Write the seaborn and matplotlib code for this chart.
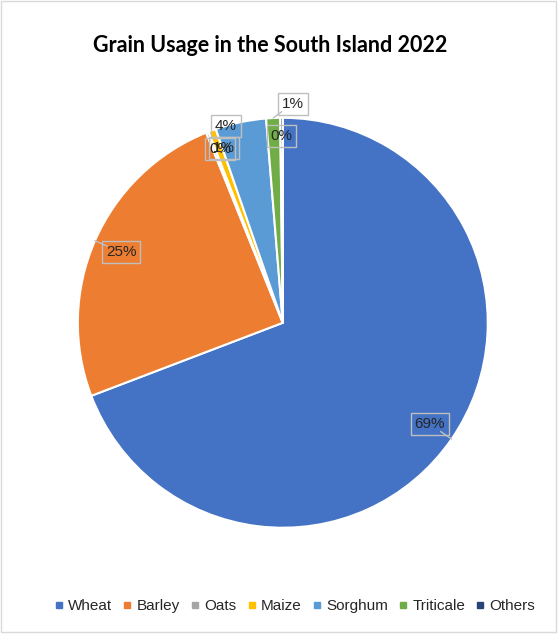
import numpy as np
import matplotlib as mpl
mpl.use("Agg")
import matplotlib.pyplot as plt
import seaborn as sns
from matplotlib.lines import Line2D
from matplotlib.patches import Rectangle

# data (percent of total)
grains = ["Wheat", "Barley", "Oats", "Maize", "Sorghum", "Triticale", "Others"]
usage = [69.2, 24.7, 0.2, 0.6, 4.0, 1.1, 0.2]
colores = ["#4472C4", "#ED7D31", "#A5A5A5", "#FFC000", "#5B9BD5", "#70AD47", "#264478"]
titulo = "Grain Usage in the South Island 2022"

# label placement (radius, angle nudge in degrees) per slice
pos_labels = [(0.87, 0), (0.86, 0), (0.90, -1.8), (0.90, -1.5), (1.0, 4.2), (1.07, -5.3), (0.91, 0)]

sns.set_style("white")
plt.rcParams["font.family"] = ["Liberation Sans", "DejaVu Sans"]

fig = plt.figure(figsize=(5.6, 6.36), dpi=100)
fig.add_artist(Rectangle((0.002, 0.006), 0.99, 0.992, transform=fig.transFigure,
                         fill=False, edgecolor="#D9D9D9", linewidth=1))

ax = fig.add_axes([0.139, 0.170, 0.732, 0.645])
wedges, _ = ax.pie(usage, colors=colores, startangle=90, counterclock=False,
                   radius=1, wedgeprops=dict(edgecolor="white", linewidth=1.5))
ax.set_xlim(-1, 1)
ax.set_ylim(-1, 1)
ax.set_aspect("equal")
ax.axis("off")

def polar(r, grados):
  a = np.deg2rad(grados)
  return r * np.cos(a), r * np.sin(a)

total = sum(usage)
for w, v, (r, nudge) in zip(wedges, usage, pos_labels):
  x, y = polar(r, (w.theta1 + w.theta2) / 2 + nudge)
  ax.text(x, y, f"{v / total * 100:.0f}%", ha="center", va="center", fontsize=11,
          color="#262626", zorder=5,
          bbox=dict(boxstyle="square,pad=0.25", fc="none", ec="#BFBFBF", lw=1))

## leaders (callout pointers) for wheat, barley and triticale
for i, r0 in [(0, 0.935), (1, 0.935)]:
  w = wedges[i]
  mid = (w.theta1 + w.theta2) / 2
  p0, p1 = polar(r0, mid), polar(1.0, mid)
  ax.plot([p0[0], p1[0]], [p0[1], p1[1]], color="#BFBFBF", lw=1, clip_on=False, zorder=4)

w = wedges[5]
mid = (w.theta1 + w.theta2) / 2
p1 = polar(1.0, mid)
ax.plot([p1[0], -0.005], [p1[1], 1.03], color="#BFBFBF", lw=1, clip_on=False, zorder=4)

fig.text(0.483, 0.928, titulo, ha="center", va="center", fontsize=15.5, fontweight="bold",
         family=["Lato", "DejaVu Sans"], color="black")

handles = [Line2D([], [], marker="s", ls="", markersize=4.5, color=c) for c in colores]
fig.legend(handles, grains, loc="center", bbox_to_anchor=(0.527, 0.047), ncol=7, frameon=False,
           fontsize=11, handlelength=0.5, handletextpad=0.35, columnspacing=0.75,
           labelcolor="#262626")

fig.savefig("out.png", dpi=100)
